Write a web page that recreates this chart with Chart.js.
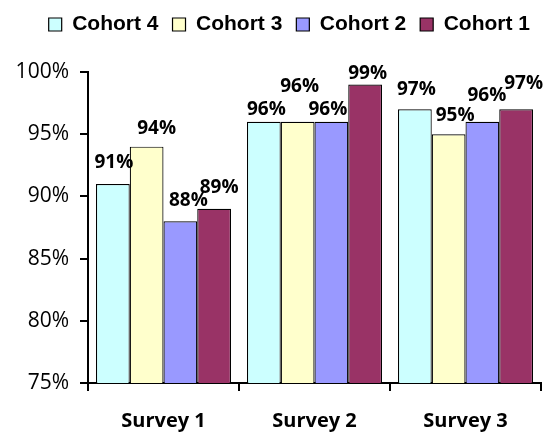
<!DOCTYPE html>
<html>
<head>
<meta charset="utf-8">
<script src="https://cdn.jsdelivr.net/npm/chart.js@4"></script>
<style>
  html, body { margin: 0; padding: 0; background: #fff; }
  #wrap { width: 544px; height: 434px; }
</style>
</head>
<body>
<div id="wrap"><canvas id="grafico"></canvas></div>
<script>
// datos de la encuesta
const encuestas = ['Survey 1', 'Survey 2', 'Survey 3'];
const cohortes = ['Cohort 4', 'Cohort 3', 'Cohort 2', 'Cohort 1'];
const cohorte4 = [91, 96, 97];
const cohorte3 = [94, 96, 95];
const cohorte2 = [88, 96, 96];
const cohorte1 = [89, 99, 97];
const marcasY = [75, 80, 85, 90, 95, 100];

const colores = ['#CCFFFF', '#FFFFCC', '#9999FF', '#993366'];

// desplazamiento del centro de cada etiqueta respecto a su barra [dx, dy]
const despEtiquetas = [
	[[1, 22.5], [2.5, 13.5], [1.5, 21.5]],
	[[10, 19.5], [2, 37], [6.5, 20]],
	[[8, 22], [-3.5, 13.5], [4.5, 28]],
	[[5, 23], [2.5, 12], [7.5, 27.5]]
];

const series = [cohorte4, cohorte3, cohorte2, cohorte1];

const etiquetasPlugin = {
	id: 'etiquetas',
	afterDatasetsDraw(chart) {
		const ctx = chart.ctx;
		ctx.save();
		ctx.font = 'bold 19px "Open Sans"';
		ctx.fillStyle = '#000';
		ctx.textAlign = 'center';
		ctx.textBaseline = 'alphabetic';
		chart.data.datasets.forEach((ds, i) => {
			chart.getDatasetMeta(i).data.forEach((bar, j) => {
				const d = despEtiquetas[i][j];
				ctx.fillText(ds.data[j] + '%', bar.x + d[0], bar.y - d[1] + 7);
			});
		});
		ctx.restore();
	}
};

const data = {
	labels: encuestas,
	datasets: series.map((s, i) => ({
		label: cohortes[i],
		data: s,
		backgroundColor: colores[i],
		borderColor: '#000',
		borderWidth: 1.2,
		borderSkipped: 'bottom'
	}))
};

const config = {
	type: 'bar',
	data: data,
	options: {
		responsive: true,
		maintainAspectRatio: false,
		animation: false,
		layout: { padding: { left: 0, right: 0, top: 0, bottom: 0 } },
		datasets: {
			bar: { categoryPercentage: 0.894, barPercentage: 1 }
		},
		plugins: {
			legend: {
				position: 'top',
				align: 'end',
				labels: {
					font: { family: '"Liberation Sans"', size: 21, weight: 'bold' },
					color: '#000',
					boxWidth: 13,
					boxHeight: 13,
					padding: 14
				}
			},
			// separador vacío entre la leyenda y el gráfico
			title: {
				display: true,
				text: '',
				weight: 500,
				font: { size: 10, lineHeight: 1 },
				padding: { top: 0, bottom: 17 }
			},
			tooltip: { enabled: false }
		},
		scales: {
			x: {
				grid: {
					offset: true,
					drawOnChartArea: false,
					color: '#000',
					lineWidth: 2,
					tickLength: 8
				},
				border: { color: '#000', width: 2 },
				ticks: {
					color: '#000',
					padding: 18,
					font: { family: '"Open Sans"', size: 20, weight: 'bold' }
				},
				afterFit: s => { s.height = 51; }
			},
			y: {
				min: 75,
				max: 100,
				afterBuildTicks: s => { s.ticks = marcasY.map(v => ({ value: v })); },
				grid: {
					drawOnChartArea: false,
					color: '#000',
					lineWidth: 2,
					tickLength: 8
				},
				border: { color: '#000', width: 2 },
				ticks: {
					color: '#000',
					padding: 11,
					font: { family: '"Open Sans"', size: 21 },
					callback: v => v + '%'
				},
				afterFit: s => { s.width = 88; }
			},
			yDer: {
				position: 'right',
				display: true,
				grid: { display: false },
				border: { display: false },
				ticks: { display: false },
				afterFit: s => { s.width = 3; }
			}
		}
	},
	plugins: [etiquetasPlugin]
};

const grafico = new Chart(document.getElementById('grafico'), config);
</script>
</body>
</html>
